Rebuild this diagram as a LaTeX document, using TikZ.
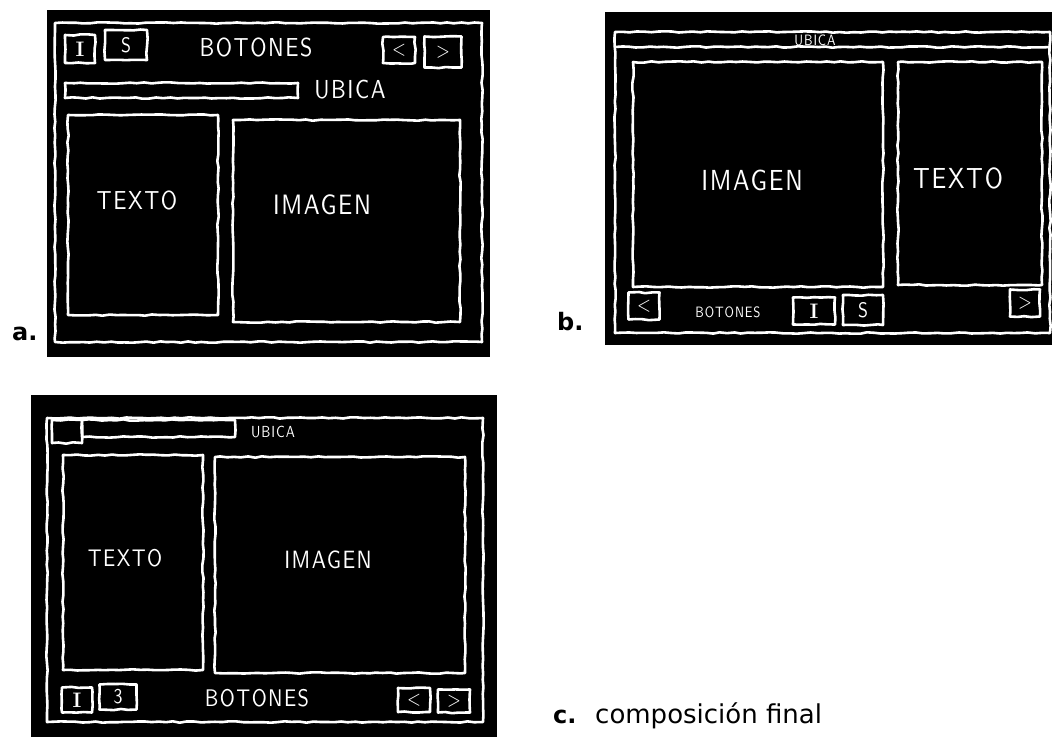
\documentclass[tikz,border=0pt]{standalone}
\usepackage{fontspec}
\newfontfamily\handfont[FakeStretch=0.85,LetterSpace=6]{lmsans10-regular.otf}
\newfontfamily\capfont{DejaVu Sans}
\usetikzlibrary{decorations.pathmorphing}
\newcommand\fsz[1]{\fontsize{#1}{#1}\selectfont}

\begin{document}
\pgfmathsetseed{11}
\begin{tikzpicture}[
  x=1pt, y=-1pt,
  panel/.style={fill=black},
  sk/.style={draw=white, line width=2.6pt, line join=round, decorate,
    decoration={random steps, segment length=7pt, amplitude=0.7pt}},
  hand/.style={text=white, inner sep=0pt, font=\handfont\fsz{#1}},
  hand/.default=26,
  btn/.style={sk, text=white, inner sep=0pt, font=\handfont\bfseries\fsz{21}},
  tag/.style={font=\capfont\bfseries\fsz{24}, inner sep=0pt, anchor=base west},
]
\useasboundingbox (0,0) rectangle (1052,738);

% a. first sketch
\fill[panel] (47,10) rectangle (490,357);
\draw[sk] (55,23) rectangle (482,342);
\node[btn, minimum width=30, minimum height=28] (aI) at (80,49) {\rmfamily\bfseries I};
\node[btn, minimum width=42, minimum height=30] (aS) at (126,45) {S};
\node[hand] (aBot) at (256,47) {BOTONES};
\node[btn, minimum width=32, minimum height=26] (aPrev) at (399,50) {<};
\node[btn, minimum width=37, minimum height=31] (aNext) at (443,52) {>};
\draw[sk] (65,83) rectangle (298,98);
\node[hand] (aUbi) at (350,90) {UBICA};
\draw[sk] (68,115) rectangle (218,315);
\node[hand] (aTxt) at (137,200) {TEXTO};
\draw[sk] (233,120) rectangle (460,322);
\node[hand=28] (aImg) at (322,205) {IMAGEN};
\node[tag] (aTag) at (12,340) {a.};

% b. second sketch
\fill[panel] (605,12) rectangle (1052,345);
\draw[sk] (615,32) rectangle (1050,333);
\draw[sk] (615,47) -- (1050,47);
\node[hand=15] (bUbi) at (815,40) {UBICA};
\draw[sk] (633,62) rectangle (883,287);
\node[hand=29] (bImg) at (752,180) {IMAGEN};
\draw[sk] (898,62) rectangle (1042,285);
\node[hand=29] (bTxt) at (958,178) {TEXTO};
\node[btn, minimum width=31, minimum height=27] (bPrev) at (644,306) {<};
\node[hand=15] (bBot) at (728,312) {BOTONES};
\node[btn, minimum width=42, minimum height=27] (bI) at (814,311) {\rmfamily\bfseries I};
\node[btn, minimum width=40, minimum height=30] (bS) at (863,310) {S};
\node[btn, minimum width=30, minimum height=27] (bNext) at (1025,303) {>};
\node[tag] (bTag) at (557,330) {b.};

% c. final layout
\fill[panel] (31,395) rectangle (497,737);
\draw[sk] (47,418) rectangle (483,722);
\draw[sk] (52,420) rectangle (82,443);
\draw[sk] (82,420) rectangle (235,437);
\node[hand=16] (cUbi) at (273,432) {UBICA};
\draw[sk] (63,455) rectangle (203,670);
\node[hand=24] (cTxt) at (125,558) {TEXTO};
\draw[sk] (215,457) rectangle (465,673);
\node[hand=25] (cImg) at (328,560) {IMAGEN};
\node[btn, minimum width=30, minimum height=25] (cI) at (77,700) {\rmfamily\bfseries I};
\node[btn, minimum width=37, minimum height=25] (cS) at (118,697) {3};
\node[hand=24] (cBot) at (257,698) {BOTONES};
\node[btn, minimum width=32, minimum height=24] (cPrev) at (414,700) {<};
\node[btn, minimum width=32, minimum height=23] (cNext) at (454,701) {>};
\node[tag] (cTag) at (553,723) {c.};
\node[font=\capfont\fsz{26}, inner sep=0pt, anchor=base west] (cCap) at (595,723) {composición final};
\end{tikzpicture}
\end{document}
